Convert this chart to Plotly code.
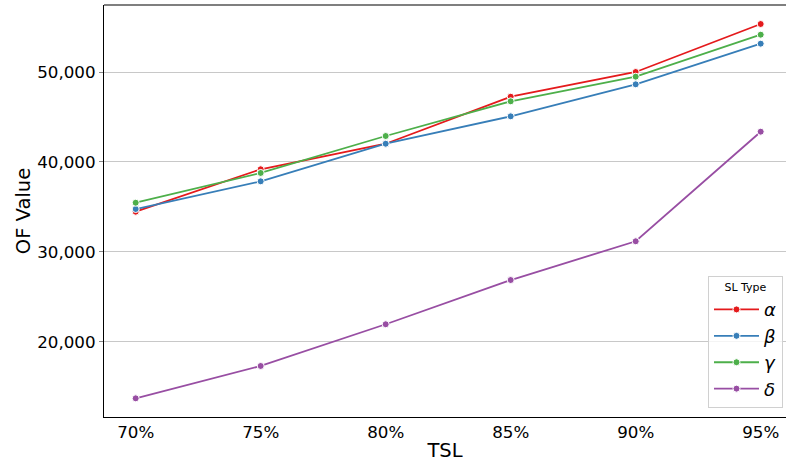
import plotly.graph_objects as go

tsl_labels = ["70%", "75%", "80%", "85%", "90%", "95%"]
sl_types = ["α", "β", "γ", "δ"]
alpha_vals = [34460, 39180, 42020, 47250, 50000, 55340]
beta_vals = [34760, 37840, 42020, 45070, 48630, 53150]
gamma_vals = [35460, 38770, 42880, 46740, 49480, 54150]
delta_vals = [13700, 17300, 21940, 26860, 31170, 43360]
series = [alpha_vals, beta_vals, gamma_vals, delta_vals]
colors = ["#e41a1c", "#377eb8", "#4daf4a", "#984ea3"]

FONT = "DejaVu Sans"

fig = go.Figure()
for name, vals, col in zip(sl_types, series, colors):
    fig.add_trace(go.Scatter(
        x=tsl_labels, y=vals, mode="lines+markers", name=f"<i>{name}</i>",
        line=dict(color=col, width=1.8),
        marker=dict(color=col, size=7, line=dict(color="white", width=1)),
    ))

fig.update_layout(
    width=786, height=462,
    margin=dict(l=104, r=0, t=5, b=45, autoexpand=False),
    paper_bgcolor="white", plot_bgcolor="white",
    font=dict(family=FONT, color="#000000", size=16.7),
    showlegend=True,
    legend=dict(
        x=0.9956, y=0.022, xanchor="right", yanchor="bottom",
        bgcolor="rgba(255,255,255,0.8)", bordercolor="#d0d0d0", borderwidth=1,
        font=dict(family=FONT, size=18),
        title=dict(text="SL Type", font=dict(family=FONT, size=11), side="top center"),
        itemwidth=45,
    ),
    shapes=[dict(type="line", xref="paper", yref="paper", x0=0, x1=1, y0=1, y1=1,
                 line=dict(color="black", width=1.2))],
)
fig.update_xaxes(
    type="category", range=[-0.2536, 5.2024], automargin=False,
    showgrid=False, showline=True, linecolor="black", linewidth=1.2,
    ticks="", tickfont=dict(family=FONT, size=16.7),
    title=dict(text="TSL", font=dict(family=FONT, size=19.5), standoff=6),
)
fig.update_yaxes(
    range=[11624, 57453], tickvals=[20000, 30000, 40000, 50000],
    tickformat=",d", automargin=False,
    showgrid=True, gridcolor="#c8c8c8", gridwidth=1.2,
    showline=True, linecolor="black", linewidth=1.2,
    ticks="outside", ticklen=4, tickcolor="#888888",
    tickfont=dict(family=FONT, size=16.7), zeroline=False,
    title=dict(text="OF Value", font=dict(family=FONT, size=19.5), standoff=1),
)

fig.write_html(
    "out.html",
    config={"displayModeBar": False},
    post_script="document.body.style.margin='0';document.body.style.overflow='hidden';",
)
